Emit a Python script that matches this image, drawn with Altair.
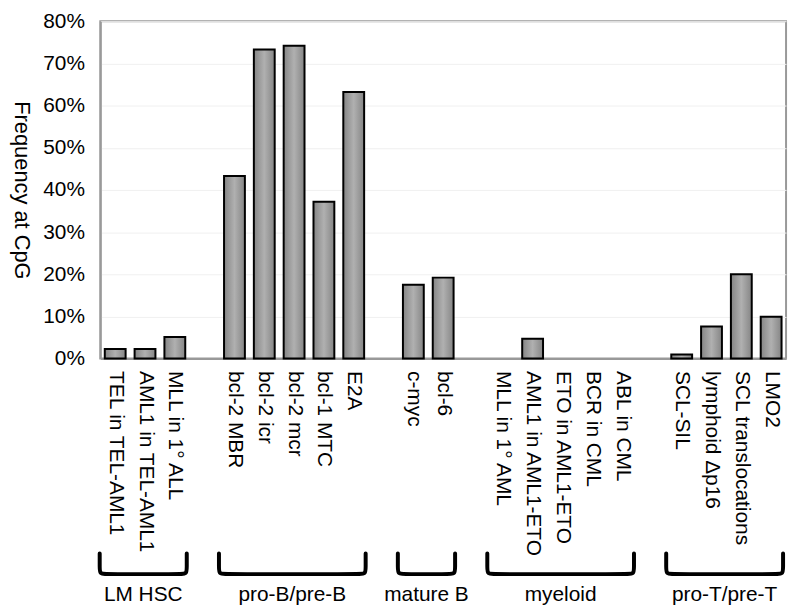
import altair as alt
import pandas as pd

# ---- data ----
groups = ["LM HSC", "pro-B/pre-B", "mature B", "myeloid", "pro-T/pre-T"]
group_categories = [
    ["TEL in TEL-AML1", "AML1 in TEL-AML1", "MLL in 1° ALL"],
    ["bcl-2 MBR", "bcl-2 icr", "bcl-2 mcr", "bcl-1 MTC", "E2A"],
    ["c-myc", "bcl-6"],
    ["MLL in 1° AML", "AML1 in AML1-ETO", "ETO in AML1-ETO", "BCR in CML", "ABL in CML"],
    ["SCL-SIL", "lymphoid \u0394p16", "SCL translocations", "LMO2"],
]
group_values = [
    [0.023, 0.023, 0.051],
    [0.433, 0.733, 0.742, 0.372, 0.632],
    [0.175, 0.192],
    [0.0, 0.047, 0.0, 0.0, 0.0],
    [0.010, 0.076, 0.200, 0.099],
]

# ---- layout helpers (slot index: one empty slot between groups) ----
rows = []
brace_rows = []
label_rows = []
slot = 0
for g, cats, vals in zip(groups, group_categories, group_values):
    first = slot
    for c, v in zip(cats, vals):
        rows.append({"category": c, "slot": slot, "value": v, "group": g})
        slot += 1
    last = slot - 1
    slot += 1  # gap
    brace_rows.append({"group": g, "first": first, "last": last})

bars = pd.DataFrame(rows)
all_slots = [int(s) for s in bars["slot"]]
last_slot = max(all_slots)
labels_js = "[" + ",".join("'" + c.replace("'", "\\'") + "'" for c in bars["category"]) + "]"
slot_to_idx = "{" + ",".join(f"{s}:{i}" for i, s in enumerate(all_slots)) + "}"

# brace geometry (in axis units, below the baseline)
BRACE_TOP = -0.462
BRACE_MID = -0.495
BRACE_BOT = -0.511
LABEL_Y = -0.56
LEFT_PAD = 0.52
RIGHT_PAD = 0.40
CORNER = 0.25

pts = []
for b in brace_rows:
    L = b["first"] - LEFT_PAD
    R = b["last"] + RIGHT_PAD
    seq = [(L, BRACE_TOP), (L, BRACE_MID), (L, BRACE_BOT), (L + CORNER, BRACE_BOT),
           (R - CORNER, BRACE_BOT), (R, BRACE_BOT), (R, BRACE_MID), (R, BRACE_TOP)]
    for i, (x, y) in enumerate(seq):
        pts.append({"group": b["group"], "i": i, "x": x, "y": y})
    label_rows.append({"group": b["group"], "x": (L + R) / 2, "y": LABEL_Y})
braces = pd.DataFrame(pts)
glabels = pd.DataFrame(label_rows)

FONT = "Liberation Sans"

xscale = alt.Scale(domain=[-0.5, last_slot + 0.5], nice=False, zero=False, padding=0)
yscale = alt.Scale(domain=[0, 0.8], nice=False, padding=0)

x_axis = alt.Axis(values=all_slots, title=None, grid=False, ticks=False,
                  labelExpr=f"{labels_js}[{slot_to_idx}[datum.value]]",
                  labelAngle=90, labelAlign="left", labelBaseline="middle",
                  labelPadding=12, labelFontSize=21, labelFont=FONT, labelLimit=400,
                  labelColor="black", domainColor="#999999", domainWidth=2,
                  labelOverlap=False, labelBound=False, labelFlush=False)
y_axis = alt.Axis(values=[0, 0.1, 0.2, 0.3, 0.4, 0.5, 0.6, 0.7, 0.8],
                  format=".0%", title="Frequency at CpG",
                  titleAngle=90, titleBaseline="top", titleFontSize=22,
                  titleFont=FONT, titleFontWeight="normal", titleColor="black",
                  titlePadding=11, labelPadding=16, labelFontSize=21,
                  labelFont=FONT, labelColor="black", ticks=False,
                  grid=True, gridColor="#f0f0f0", gridWidth=1,
                  domainColor="#999999", domainWidth=2, labelOverlap=False)

bar_layer = alt.Chart(bars).transform_filter("datum.value > 0").mark_bar(
    size=21,
    stroke="black",
    strokeWidth=2,
    fill=alt.Gradient(
        gradient="linear",
        stops=[alt.GradientStop(color="#858585", offset=0),
               alt.GradientStop(color="#b0b0b0", offset=0.5),
               alt.GradientStop(color="#858585", offset=1)],
        x1=0, x2=1, y1=0, y2=0,
    ),
).encode(
    x=alt.X("slot:Q", scale=xscale, axis=x_axis),
    y=alt.Y("value:Q", scale=yscale, axis=y_axis),
)

brace_layer = alt.Chart(braces).mark_line(
    color="black", strokeWidth=4, interpolate="basis", strokeCap="round"
).encode(
    x=alt.X("x:Q", scale=xscale, axis=x_axis),
    y=alt.Y("y:Q", scale=yscale, axis=y_axis),
    detail="group:N",
    order="i:Q",
)

label_layer = alt.Chart(glabels).mark_text(
    fontSize=21, font=FONT, color="black", baseline="middle", align="center"
).encode(
    x=alt.X("x:Q", scale=xscale, axis=x_axis),
    y=alt.Y("y:Q", scale=yscale, axis=y_axis),
    text="group:N",
)

chart = alt.layer(bar_layer, brace_layer, label_layer).properties(
    width=691, height=340,
    padding={"left": 2, "top": 0, "right": 1, "bottom": 0},
).configure_view(
    stroke="#999999", strokeWidth=2
).configure_axis(labelOverlap=False)

chart.save("out.html", embed_options={"renderer": "svg", "actions": False})
